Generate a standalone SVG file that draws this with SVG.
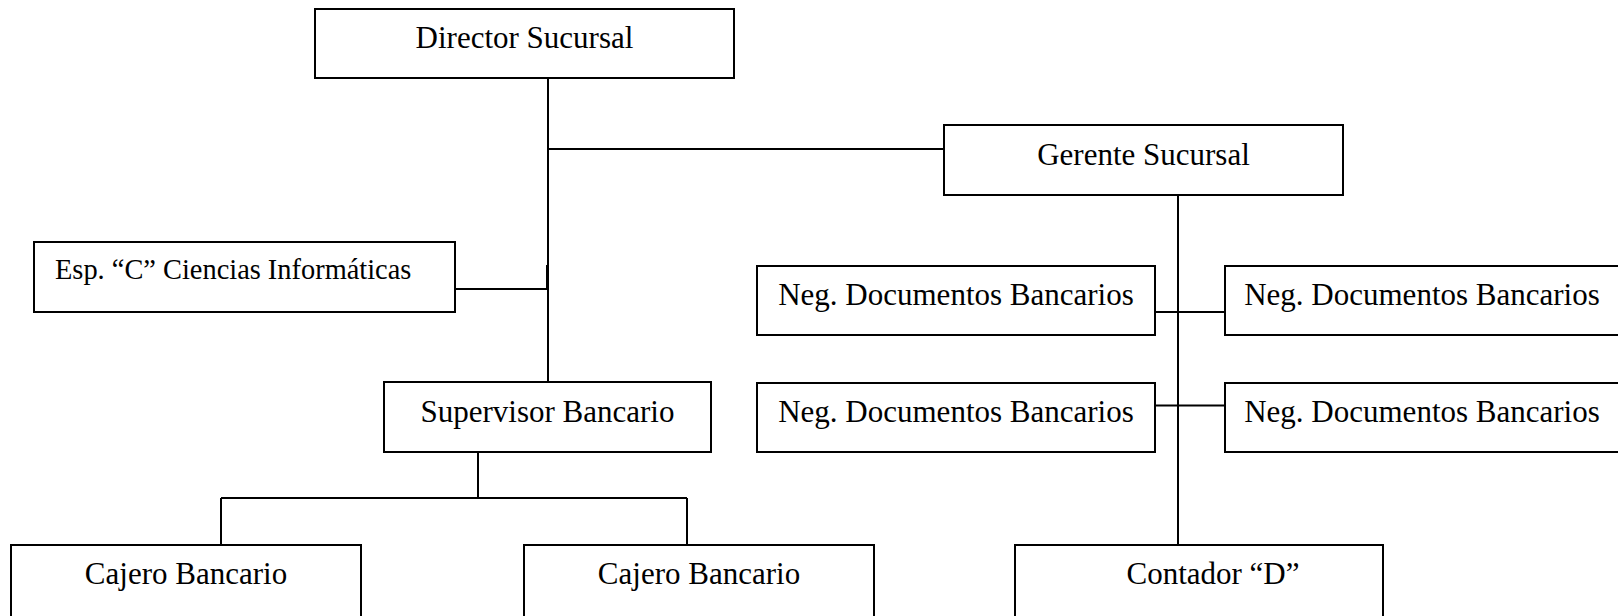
<svg xmlns="http://www.w3.org/2000/svg" width="1618" height="616" viewBox="0 0 1618 616">
<style>
.box{fill:#fff;stroke:#000;stroke-width:2}
.ln{stroke:#000;stroke-width:2;fill:none}
text{font-family:"Liberation Serif","Times New Roman",serif;font-size:31px;fill:#000}
.c{text-anchor:middle}
</style>
<rect x="0" y="0" width="1618" height="616" fill="#fff"/>
<g id="connectors">
<line class="ln" x1="548" y1="78" x2="548" y2="382"/>
<line class="ln" x1="548" y1="149" x2="944" y2="149"/>
<line class="ln" x1="455" y1="289" x2="548" y2="289"/>
<line stroke="#000" stroke-width="1" x1="546.5" y1="265" x2="546.5" y2="289"/>
<line class="ln" x1="478" y1="452" x2="478" y2="498"/>
<line class="ln" x1="221" y1="498" x2="687" y2="498"/>
<line class="ln" x1="221" y1="498" x2="221" y2="545"/>
<line class="ln" x1="687" y1="498" x2="687" y2="545"/>
<line class="ln" x1="1178" y1="195" x2="1178" y2="545"/>
<line class="ln" x1="1155" y1="312" x2="1225" y2="312"/>
<line class="ln" x1="1155" y1="405.5" x2="1225" y2="405.5"/>
</g>
<g id="director"><rect class="box" x="315" y="9" width="419" height="69"/><text class="c" x="524.5" y="48">Director Sucursal</text></g>
<g id="gerente"><rect class="box" x="944" y="125" width="399" height="70"/><text class="c" x="1143.5" y="165">Gerente Sucursal</text></g>
<g id="esp"><rect class="box" x="34" y="242" width="421" height="70"/><text x="55" y="279" style="font-size:28.4px">Esp. “C” Ciencias Informáticas</text></g>
<g id="supervisor"><rect class="box" x="384" y="382" width="327" height="70"/><text class="c" x="547.5" y="422">Supervisor Bancario</text></g>
<g id="cajero1"><rect class="box" x="11" y="545" width="350" height="75"/><text class="c" x="186" y="584">Cajero Bancario</text></g>
<g id="cajero2"><rect class="box" x="524" y="545" width="350" height="75"/><text class="c" x="699" y="584">Cajero Bancario</text></g>
<g id="contador"><rect class="box" x="1015" y="545" width="368" height="75"/><text class="c" x="1213" y="584">Contador “D”</text></g>
<g id="neg1"><rect class="box" x="757" y="266" width="398" height="69"/><text class="c" x="956" y="305">Neg. Documentos Bancarios</text></g>
<g id="neg2"><rect class="box" x="1225" y="266" width="400" height="69"/><text class="c" x="1422" y="305">Neg. Documentos Bancarios</text></g>
<g id="neg3"><rect class="box" x="757" y="383" width="398" height="69"/><text class="c" x="956" y="422">Neg. Documentos Bancarios</text></g>
<g id="neg4"><rect class="box" x="1225" y="383" width="400" height="69"/><text class="c" x="1422" y="422">Neg. Documentos Bancarios</text></g>
</svg>
